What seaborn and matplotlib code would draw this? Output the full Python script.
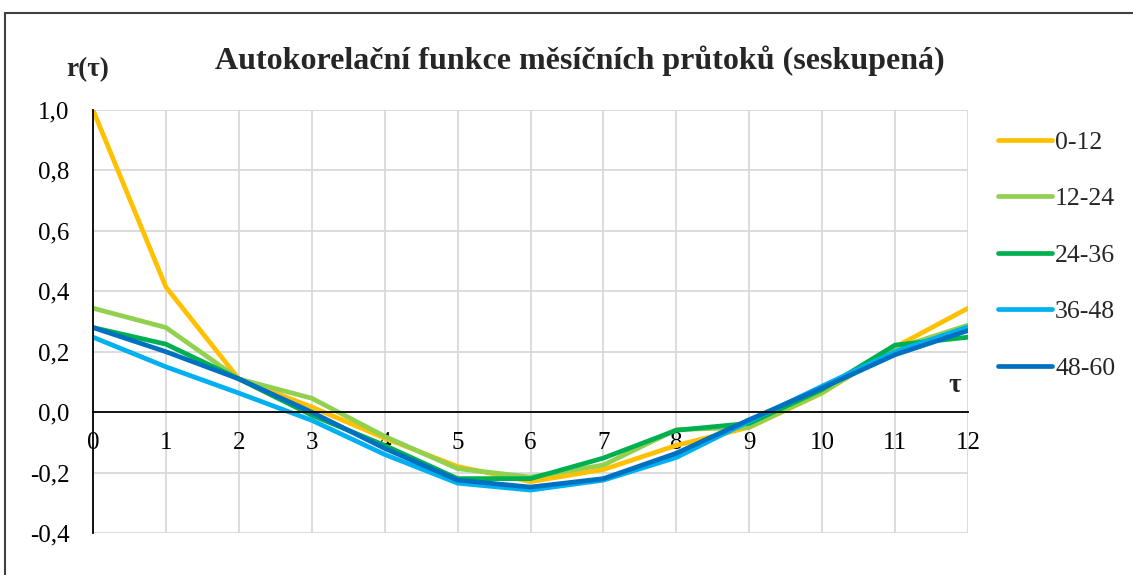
import matplotlib
matplotlib.use("Agg")
import matplotlib.pyplot as plt
from matplotlib.patches import Rectangle
from matplotlib.ticker import FuncFormatter, MultipleLocator
import seaborn as sns
import pandas as pd

lags = list(range(13))
series_names = ["0-12", "12-24", "24-36", "36-48", "48-60"]
r_0_12 = [1.00, 0.414, 0.11, 0.017, -0.086, -0.18, -0.23, -0.19, -0.11, -0.05, 0.063, 0.215, 0.344]
r_12_24 = [0.344, 0.28, 0.11, 0.046, -0.08, -0.187, -0.215, -0.175, -0.058, -0.05, 0.065, 0.21, 0.288]
r_24_36 = [0.28, 0.225, 0.11, -0.01, -0.11, -0.22, -0.22, -0.152, -0.06, -0.037, 0.075, 0.222, 0.248]
r_36_48 = [0.248, 0.15, 0.063, -0.027, -0.14, -0.235, -0.258, -0.225, -0.15, -0.03, 0.086, 0.20, 0.282]
r_48_60 = [0.28, 0.20, 0.11, 0.0, -0.12, -0.225, -0.248, -0.22, -0.136, -0.025, 0.08, 0.19, 0.27]
colors = ["#FFC000", "#92D050", "#00B050", "#00B0F0", "#0070C0"]

all_series = [r_0_12, r_12_24, r_24_36, r_36_48, r_48_60]
df = pd.DataFrame({
    "tau": lags * len(series_names),
    "r": [v for s in all_series for v in s],
    "series": [n for n in series_names for _ in lags],
})

sns.set_theme(style="white")
plt.rcParams["font.family"] = ["Liberation Serif", "DejaVu Serif"]

W, H = 1133, 575
fig = plt.figure(figsize=(W / 100, H / 100), dpi=100)
ax = fig.add_axes([93 / W, 1 - 533 / H, (968 - 93) / W, (533 - 110) / H])

LW = 3.4
sns.lineplot(data=df, x="tau", y="r", hue="series", hue_order=series_names,
             palette=colors, linewidth=LW, ax=ax, legend=True)

ax.set_xlim(0, 12)
ax.set_ylim(-0.4, 1.0)
ax.xaxis.set_major_locator(MultipleLocator(1))
ax.yaxis.set_major_locator(MultipleLocator(0.2))
ax.yaxis.set_major_formatter(FuncFormatter(lambda v, p: f"{v:.1f}".replace(".", ",").replace("-0,0", "0,0")))
ax.grid(True, color="#d9d9d9", linewidth=1.3)
ax.set_axisbelow(True)
for s in ["top", "right"]:
    ax.spines[s].set_visible(False)
ax.spines["bottom"].set_position(("data", 0))
ax.spines["bottom"].set_color("black")
ax.spines["bottom"].set_linewidth(1.3)
ax.spines["left"].set_color("black")
ax.spines["left"].set_linewidth(1.3)
ax.tick_params(axis="x", length=0, pad=14, labelsize=18, colors="black")
ax.tick_params(axis="y", length=0, pad=17, labelsize=18, colors="black")
ax.set_xlabel("")
ax.set_ylabel("")

handles = ax.get_legend().legend_handles
leg = ax.legend(handles=handles, labels=series_names,
                loc="upper left", bbox_to_anchor=(998 / W, 1 - 131 / H), bbox_transform=fig.transFigure,
                frameon=False, fontsize=18.5, handlelength=2.1, handletextpad=0.12,
                labelspacing=1.30, borderaxespad=0, borderpad=0)
for h in leg.get_lines():
    h.set_linewidth(LW)

fig.text(580 / W, 1 - 61 / H, "Autokorelační funkce měsíčních průtoků (seskupená)",
         ha="center", va="center", fontsize=23, fontweight="bold")
fig.text(88 / W, 1 - 70 / H, "r(τ)", ha="center", va="center", fontsize=19.5, fontweight="bold")
fig.text(955 / W, 1 - 386 / H, "τ", ha="center", va="center", fontsize=19.5, fontweight="bold")

fig.patches.append(Rectangle((5 / W, -0.1), 1.2, 1 - 13 / H + 0.1, transform=fig.transFigure,
                             fill=False, edgecolor="#404040", linewidth=1.5))

fig.savefig("out.png", dpi=100)
